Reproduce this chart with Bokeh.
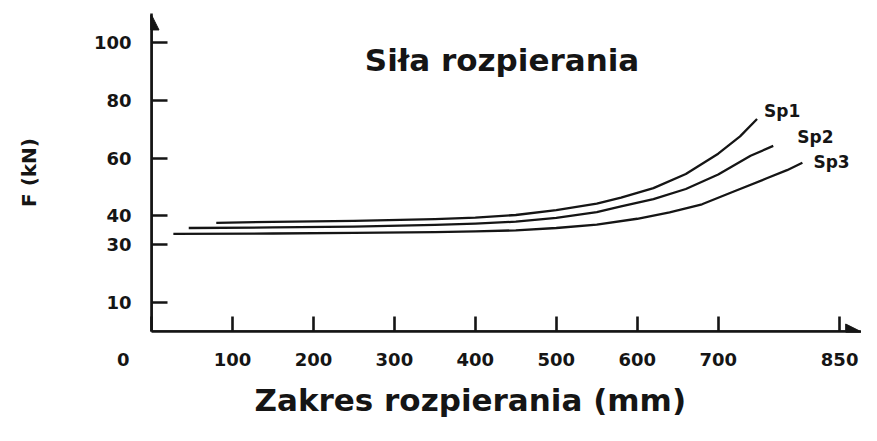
from bokeh.plotting import figure
from bokeh.models import FixedTicker, Label, Arrow, NormalHead, Title
from bokeh.embed import file_html
from bokeh.resources import INLINE

# ---- data ----
sp1_x = [80, 150, 250, 350, 400, 450, 500, 550, 580, 620, 660, 700, 727, 748]
sp1_y = [37.6, 37.9, 38.3, 38.9, 39.4, 40.3, 42.0, 44.2, 46.3, 49.6, 54.5, 61.5, 67.5, 73.5]

sp2_x = [46, 150, 250, 350, 400, 450, 500, 550, 580, 620, 660, 700, 740, 768]
sp2_y = [35.8, 36.0, 36.3, 36.9, 37.3, 38.0, 39.3, 41.3, 43.3, 45.8, 49.3, 54.3, 60.8, 64.2]

sp3_x = [27, 150, 250, 350, 400, 450, 500, 550, 600, 640, 680, 720, 760, 785, 804]
sp3_y = [33.8, 33.9, 34.1, 34.4, 34.6, 35.0, 35.8, 37.0, 39.0, 41.2, 44.0, 48.5, 53.0, 55.8, 58.4]

series_names = ["Sp1", "Sp2", "Sp3"]
x_ticks = [100, 200, 300, 400, 500, 600, 700, 850]
y_ticks = [10, 30, 40, 60, 80, 100]
origin_label = "0"

title_text = "Siła rozpierania"
x_label = "Zakres rozpierania (mm)"
y_label = "F (kN)"

FONT = "DejaVu Sans"
INK = "#151515"

p = figure(width=861, height=425, x_range=(0, 877), y_range=(0, 110),
           output_backend="svg", toolbar_location=None,
           min_border_left=151, min_border_right=0, min_border_top=13,
           min_border_bottom=94)
p.outline_line_color = None
p.grid.visible = False
p.background_fill_color = "white"
p.border_fill_color = "white"

# axes
for ax in (p.xaxis[0], p.yaxis[0]):
    ax.axis_line_width = 2.6
    ax.axis_line_color = INK
    ax.major_tick_line_width = 2.6
    ax.major_tick_line_color = INK
    ax.minor_tick_line_color = None
    ax.major_tick_out = 0
    ax.major_label_text_font = FONT
    ax.major_label_text_font_style = "bold"
    ax.major_label_text_font_size = "18px"
    ax.major_label_text_color = INK

# the corner "0" sits left of the origin: pad it with no-break spaces
p.xaxis.ticker = FixedTicker(ticks=[0] + x_ticks)
p.xaxis.major_label_overrides = {0: origin_label + "\u00a0" * 9}
p.xaxis.major_tick_in = 15
p.xaxis.major_label_standoff = 17

p.yaxis.ticker = FixedTicker(ticks=y_ticks)
p.yaxis.major_tick_in = 16
p.yaxis.major_label_standoff = 20
p.yaxis.axis_label = y_label
p.yaxis.axis_label_text_font = FONT
p.yaxis.axis_label_text_font_style = "bold"
p.yaxis.axis_label_text_font_size = "20px"
p.yaxis.axis_label_text_color = INK
p.yaxis.axis_label_standoff = 50

# x axis title placed below, shifted left like the reference
p.add_layout(Title(text=x_label, align="left", offset=103, standoff=15,
                   text_font=FONT, text_font_style="bold", text_font_size="31px",
                   text_color=INK), "below")

# axis arrows
p.add_layout(Arrow(end=NormalHead(size=15, fill_color=INK, line_color=INK, line_width=1),
                   x_start=0, y_start=0, x_end=0, y_end=109.5,
                   line_color=INK, line_width=2.6))
p.add_layout(Arrow(end=NormalHead(size=15, fill_color=INK, line_color=INK, line_width=1),
                   x_start=0, y_start=0, x_end=876, y_end=0,
                   line_color=INK, line_width=2.6))

# curves
series = [(sp1_x, sp1_y), (sp2_x, sp2_y), (sp3_x, sp3_y)]
label_offsets = [(7, 8), (24, 9), (11, 1)]
for (xs, ys), name, (dx, dy) in zip(series, series_names, label_offsets):
    p.line(xs, ys, line_color=INK, line_width=2.3, line_join="round")
    p.add_layout(Label(x=xs[-1], y=ys[-1], x_offset=dx, y_offset=dy, text=name,
                       text_font=FONT, text_font_style="bold", text_font_size="17px",
                       text_color=INK, text_align="left", text_baseline="middle"))

# title inside plot area
p.add_layout(Label(x=433, y=94, text=title_text,
                   text_font=FONT, text_font_style="bold", text_font_size="31px",
                   text_color=INK, text_align="center", text_baseline="alphabetic"))

open("out.html", "w").write(file_html(p, INLINE))
